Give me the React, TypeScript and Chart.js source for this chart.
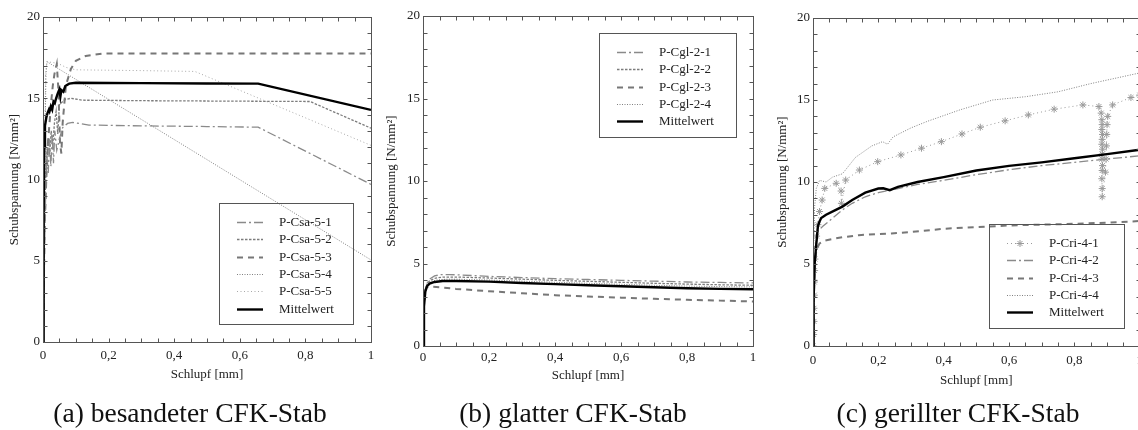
import React, { useEffect, useRef } from 'react';
import { Chart, registerables } from 'chart.js';

Chart.register(...registerables);

type Pt = [number, number];

// ---------- shared text ----------
const X_TITLE = 'Schlupf [mm]';
const Y_TITLE = 'Schubspannung [N/mm²]';
const X_MIN = 0;
const X_MAX = 1;
const X_STEP = 0.2;
const X_MINOR = 0.05;
const Y_MIN = 0;
const Y_MAX = 20;
const Y_STEP = 5;
const Y_MINOR = 1;

// ---------- (a) besandeter CFK-Stab ----------
const CAPTION_A = '(a) besandeter CFK-Stab';
const LABELS_A = ['P-Csa-5-1', 'P-Csa-5-2', 'P-Csa-5-3', 'P-Csa-5-4', 'P-Csa-5-5', 'Mittelwert'];
const CSA_5_1: Pt[] = [[0, 0], [0.004, 5], [0.008, 9], [0.012, 11.5], [0.016, 10.4], [0.02, 12.5], [0.024, 10.8], [0.028, 12.8], [0.032, 11], [0.036, 13.0], [0.042, 11.8], [0.05, 12.5], [0.06, 13.2], [0.075, 13.45], [0.09, 13.52], [0.11, 13.45], [0.14, 13.35], [0.3, 13.3], [0.5, 13.26], [0.656, 13.22], [1, 9.7]];
const CSA_5_2: Pt[] = [[0, 0], [0.005, 8], [0.01, 11], [0.015, 12.5], [0.02, 11.5], [0.025, 13], [0.03, 12.2], [0.035, 13.5], [0.04, 14.2], [0.045, 12.8], [0.05, 14.6], [0.065, 14.9], [0.085, 15.0], [0.12, 14.88], [0.3, 14.85], [0.6, 14.82], [0.814, 14.8], [1, 13.16]];
const CSA_5_3: Pt[] = [[0, 0], [0.005, 7], [0.01, 10], [0.015, 12.2], [0.02, 13.5], [0.025, 14.8], [0.03, 15.8], [0.035, 16.5], [0.042, 17.1], [0.047, 15.5], [0.052, 12.2], [0.056, 11.6], [0.06, 13.5], [0.07, 15.8], [0.085, 16.8], [0.1, 17.3], [0.13, 17.6], [0.18, 17.75], [1, 17.75]];
const CSA_5_4: Pt[] = [[0, 0], [0.003, 5], [0.006, 12], [0.009, 16.5], [0.012, 17.25], [1, 5.05]];
const CSA_5_5: Pt[] = [[0, 0], [0.004, 10], [0.008, 16.5], [0.012, 17.25], [0.045, 17.15], [0.07, 16.9], [0.1, 16.75], [0.3, 16.7], [0.463, 16.65], [1, 12.1]];
const CSA_MEAN: Pt[] = [[0, 0], [0.002, 8], [0.004, 12], [0.006, 13.3], [0.01, 13.8], [0.014, 14.1], [0.018, 14.3], [0.02, 14.2], [0.024, 14.5], [0.028, 14.3], [0.032, 14.8], [0.036, 14.7], [0.04, 15.0], [0.045, 15.3], [0.05, 15.55], [0.053, 15.1], [0.056, 15.5], [0.062, 15.4], [0.068, 15.75], [0.08, 15.9], [0.1, 15.95], [0.3, 15.93], [0.5, 15.91], [0.656, 15.9], [1, 14.28]];

// ---------- (b) glatter CFK-Stab ----------
const CAPTION_B = '(b) glatter CFK-Stab';
const LABELS_B = ['P-Cgl-2-1', 'P-Cgl-2-2', 'P-Cgl-2-3', 'P-Cgl-2-4', 'Mittelwert'];
const CGL_2_1: Pt[] = [[0, 0], [0.003, 2.2], [0.007, 3.3], [0.012, 3.8], [0.02, 4.05], [0.035, 4.25], [0.055, 4.33], [0.08, 4.33], [0.12, 4.3], [0.2, 4.22], [0.3, 4.15], [0.4, 4.08], [0.5, 4.03], [0.6, 3.98], [0.7, 3.93], [0.8, 3.88], [0.9, 3.85], [1, 3.82]];
const CGL_2_2: Pt[] = [[0, 0], [0.003, 2.5], [0.007, 3.4], [0.012, 3.75], [0.02, 3.95], [0.035, 4.1], [0.06, 4.18], [0.1, 4.18], [0.2, 4.12], [0.3, 4.05], [0.4, 3.98], [0.5, 3.92], [0.6, 3.86], [0.7, 3.8], [0.8, 3.75], [0.9, 3.71], [1, 3.68]];
const CGL_2_3: Pt[] = [[0, 0], [0.002, 2.4], [0.005, 3.3], [0.01, 3.55], [0.02, 3.6], [0.05, 3.56], [0.1, 3.46], [0.2, 3.32], [0.3, 3.2], [0.4, 3.08], [0.5, 3.0], [0.6, 2.93], [0.7, 2.86], [0.8, 2.8], [0.9, 2.75], [1, 2.7]];
const CGL_2_4: Pt[] = [[0, 0], [0.003, 2.4], [0.007, 3.3], [0.012, 3.7], [0.02, 3.88], [0.04, 4.0], [0.07, 4.05], [0.1, 4.05], [0.2, 4.0], [0.3, 3.93], [0.4, 3.86], [0.5, 3.8], [0.6, 3.74], [0.7, 3.68], [0.8, 3.63], [0.9, 3.6], [1, 3.58]];
const CGL_MEAN: Pt[] = [[0, 0], [0.003, 2.4], [0.007, 3.3], [0.012, 3.62], [0.02, 3.78], [0.035, 3.88], [0.06, 3.94], [0.1, 3.94], [0.2, 3.9], [0.3, 3.82], [0.4, 3.75], [0.5, 3.68], [0.6, 3.62], [0.7, 3.56], [0.8, 3.5], [0.9, 3.46], [1, 3.44]];

// ---------- (c) gerillter CFK-Stab ----------
const CAPTION_C = '(c) gerillter CFK-Stab';
const LABELS_C = ['P-Cri-4-1', 'P-Cri-4-2', 'P-Cri-4-3', 'P-Cri-4-4', 'Mittelwert'];
const CRI_4_1: Pt[] = [[0, 0], [0.002, 0.7], [0.003, 1.5], [0.003, 2.3], [0.004, 3.1], [0.004, 3.9], [0.005, 4.6], [0.006, 5.3], [0.008, 6.0], [0.011, 6.7], [0.015, 7.4], [0.02, 8.2], [0.028, 8.9], [0.036, 9.61], [0.071, 9.92], [0.086, 9.45], [0.087, 8.7], [0.1, 10.12], [0.142, 10.73], [0.198, 11.24], [0.269, 11.65], [0.332, 12.06], [0.393, 12.46], [0.456, 12.93], [0.512, 13.34], [0.588, 13.73], [0.659, 14.09], [0.738, 14.44], [0.826, 14.7], [0.875, 14.6], [0.882, 14.2], [0.884, 13.8], [0.885, 13.5], [0.884, 13.2], [0.886, 12.9], [0.885, 12.6], [0.884, 12.3], [0.886, 12.0], [0.885, 11.7], [0.884, 11.4], [0.886, 11.0], [0.885, 10.7], [0.884, 10.2], [0.885, 9.6], [0.885, 9.1], [0.895, 10.6], [0.897, 11.4], [0.898, 12.2], [0.899, 12.9], [0.9, 13.5], [0.902, 14.0], [0.917, 14.7], [0.973, 15.15], [1, 15.3]];
const CRI_4_2: Pt[] = [[0, 0], [0.003, 3], [0.006, 5], [0.01, 6.3], [0.015, 7.0], [0.03, 7.3], [0.06, 7.8], [0.09, 8.3], [0.12, 8.7], [0.16, 9.1], [0.2, 9.35], [0.26, 9.6], [0.32, 9.85], [0.4, 10.1], [0.5, 10.45], [0.6, 10.75], [0.7, 11.0], [0.8, 11.2], [0.9, 11.4], [1, 11.6]];
const CRI_4_3: Pt[] = [[0, 0], [0.002, 2.5], [0.005, 4.5], [0.01, 5.85], [0.02, 6.25], [0.035, 6.42], [0.08, 6.6], [0.14, 6.76], [0.24, 6.86], [0.3, 6.95], [0.4, 7.15], [0.5, 7.25], [0.6, 7.35], [0.7, 7.4], [0.8, 7.45], [0.9, 7.52], [1, 7.62]];
const CRI_4_4: Pt[] = [[0, 0], [0.002, 6], [0.005, 8.5], [0.01, 9.6], [0.02, 10.1], [0.04, 10.0], [0.06, 10.3], [0.09, 10.5], [0.13, 11.5], [0.18, 12.2], [0.213, 12.46], [0.228, 12.3], [0.245, 12.75], [0.3, 13.3], [0.35, 13.7], [0.45, 14.4], [0.55, 15.0], [0.65, 15.2], [0.75, 15.5], [0.85, 16.0], [1, 16.65]];
const CRI_MEAN: Pt[] = [[0, 0], [0.002, 3], [0.005, 5], [0.01, 6.2], [0.015, 7.3], [0.02, 7.6], [0.025, 7.8], [0.04, 8.0], [0.07, 8.3], [0.09, 8.5], [0.12, 8.9], [0.16, 9.35], [0.2, 9.6], [0.215, 9.62], [0.235, 9.5], [0.26, 9.7], [0.32, 10.0], [0.4, 10.3], [0.5, 10.7], [0.6, 10.98], [0.7, 11.2], [0.8, 11.45], [0.9, 11.7], [1, 11.97]];

// ---------- styles ----------
const FONT = 'Liberation Serif';
const TEXT_COLOR = '#222';
type Sty = { color: string; dash: number[]; width: number; star?: boolean };
const ST_LONG: Sty = { color: '#8a8a8a', dash: [9, 3, 2, 3], width: 1.3 };
const ST_FINE: Sty = { color: '#7c7c7c', dash: [2.5, 1.5], width: 1.3 };
const ST_MED: Sty = { color: '#777777', dash: [6, 5], width: 2 };
const ST_DOT: Sty = { color: '#808080', dash: [1, 1.5], width: 1 };
const ST_SPARSE: Sty = { color: '#a8a8a8', dash: [1, 2.5], width: 1 };
const ST_STAR: Sty = { color: '#9a9a9a', dash: [1, 3], width: 1, star: true };
const ST_MEAN: Sty = { color: '#000000', dash: [], width: 2.4 };

type PanelCfg = {
  left: number; width: number; height: number;
  padTop: number; padRight: number; padBottom: number;
  yWidth: number; xHeight: number; xTickPad: number; yTitlePad: number;
  legend: { left: number; top: number; width: number; height: number };
  caption: string; captionX: number;
  series: Pt[][]; labels: string[]; styles: Sty[];
};

const PANELS: PanelCfg[] = [
  {
    left: 0, width: 380, height: 430, padTop: 17, padRight: 9, padBottom: 48,
    yWidth: 43, xHeight: 40, xTickPad: 5.5, yTitlePad: 7,
    legend: { left: 219, top: 203, width: 134, height: 121 },
    caption: CAPTION_A, captionX: 190,
    series: [CSA_5_1, CSA_5_2, CSA_5_3, CSA_5_4, CSA_5_5, CSA_MEAN], labels: LABELS_A,
    styles: [ST_LONG, ST_FINE, ST_MED, ST_DOT, ST_SPARSE, ST_MEAN],
  },
  {
    left: 380, width: 380, height: 430, padTop: 16, padRight: 7, padBottom: 46.5,
    yWidth: 43, xHeight: 37.5, xTickPad: 3.5, yTitlePad: 4,
    legend: { left: 219, top: 33, width: 137, height: 104 },
    caption: CAPTION_B, captionX: 573 - 380,
    series: [CGL_2_1, CGL_2_2, CGL_2_3, CGL_2_4, CGL_MEAN], labels: LABELS_B,
    styles: [ST_LONG, ST_FINE, ST_MED, ST_DOT, ST_MEAN],
  },
  {
    left: 760, width: 390, height: 430, padTop: 18, padRight: 8, padBottom: 41.5,
    yWidth: 53, xHeight: 42.5, xTickPad: 7, yTitlePad: 15,
    legend: { left: 229, top: 224, width: 135, height: 104 },
    caption: CAPTION_C, captionX: 958 - 760,
    series: [CRI_4_1, CRI_4_2, CRI_4_3, CRI_4_4, CRI_MEAN], labels: LABELS_C,
    styles: [ST_STAR, ST_LONG, ST_MED, ST_DOT, ST_MEAN],
  },
];

function drawStar(ctx: CanvasRenderingContext2D, cx: number, cy: number, r: number) {
  ctx.beginPath();
  for (let k = 0; k < 4; k++) {
    const a = (k * Math.PI) / 4;
    const dx = Math.cos(a) * r;
    const dy = Math.sin(a) * r;
    ctx.moveTo(cx - dx, cy - dy);
    ctx.lineTo(cx + dx, cy + dy);
  }
  ctx.stroke();
}

const frameTicksPlugin = {
  id: 'frameTicks',
  afterDraw(chart: any) {
    const { ctx, chartArea, scales } = chart;
    const { left, right, top, bottom } = chartArea;
    const x = scales.x;
    const y = scales.y;
    ctx.save();
    ctx.setLineDash([]);
    ctx.strokeStyle = '#555';
    ctx.lineWidth = 1;
    const L = Math.round(left) + 0.5;
    const R = Math.round(right) + 0.5;
    const T = Math.round(top) + 0.5;
    const B = Math.round(bottom) + 0.5;
    ctx.strokeRect(L, T, R - L, B - T);
    const tl = 4;
    ctx.beginPath();
    const nx = Math.round((X_MAX - X_MIN) / X_MINOR);
    for (let i = 1; i < nx; i++) {
      const px = Math.round(x.getPixelForValue(X_MIN + i * X_MINOR)) + 0.5;
      ctx.moveTo(px, B); ctx.lineTo(px, B - tl);
      ctx.moveTo(px, T); ctx.lineTo(px, T + tl);
    }
    const ny = Math.round((Y_MAX - Y_MIN) / Y_MINOR);
    for (let i = 1; i < ny; i++) {
      const py = Math.round(y.getPixelForValue(Y_MIN + i * Y_MINOR)) + 0.5;
      ctx.moveTo(L, py); ctx.lineTo(L + tl, py);
      ctx.moveTo(R, py); ctx.lineTo(R - tl, py);
    }
    ctx.stroke();
    ctx.restore();
  },
};

const boxLegendPlugin = {
  id: 'boxLegend',
  afterDraw(chart: any, _args: any, opts: any) {
    const box = opts && opts.box;
    if (!box) return;
    const { ctx } = chart;
    ctx.save();
    ctx.setLineDash([]);
    ctx.strokeStyle = '#555';
    ctx.lineWidth = 1;
    ctx.strokeRect(Math.round(box.left) + 0.5, Math.round(box.top) + 0.5, box.width, box.height);
    const datasets = chart.data.datasets;
    datasets.forEach((ds: any, i: number) => {
      const yy = Math.round(box.top + 19 + i * 17.3) + 0.5;
      const x0 = box.left + 18;
      const x1 = box.left + 44;
      ctx.setLineDash(ds.borderDash || []);
      ctx.strokeStyle = ds.borderColor;
      ctx.lineWidth = ds.borderWidth;
      ctx.beginPath();
      ctx.moveTo(x0, yy);
      ctx.lineTo(x1, yy);
      ctx.stroke();
      if (ds.pointStyle === 'star') {
        ctx.setLineDash([]);
        ctx.lineWidth = 1;
        drawStar(ctx, (x0 + x1) / 2, yy, 3.5);
      }
      ctx.setLineDash([]);
      ctx.fillStyle = TEXT_COLOR;
      ctx.font = `13px "${FONT}"`;
      ctx.textBaseline = 'middle';
      ctx.textAlign = 'left';
      ctx.fillText(ds.label, box.left + 60, yy);
    });
    ctx.restore();
  },
};

function fmtX(v: any) {
  const n = Math.round(Number(v) * 10) / 10;
  if (n === 0) return '0';
  if (n === 1) return '1';
  return n.toFixed(1).replace('.', ',');
}

function buildConfig(p: PanelCfg): any {
  const datasets = p.series.map((pts, i) => {
    const s = p.styles[i];
    const isMean = p.labels[i] === 'Mittelwert';
    return {
      label: p.labels[i],
      data: pts.map(([x, y]) => ({ x, y })),
      borderColor: s.color,
      backgroundColor: s.color,
      borderDash: s.dash,
      borderWidth: s.width,
      fill: false,
      tension: 0,
      order: isMean ? 0 : i + 1,
      pointRadius: s.star ? 3.5 : 0,
      pointStyle: s.star ? 'star' : 'circle',
      pointBorderColor: s.color,
      pointBackgroundColor: s.color,
      pointBorderWidth: 1,
    };
  });
  const tickFont = { family: FONT, size: 13 };
  return {
    type: 'line',
    data: { datasets },
    options: {
      responsive: false,
      animation: false,
      events: [],
      layout: { padding: { left: 0, right: p.padRight, top: p.padTop, bottom: p.padBottom } },
      plugins: {
        legend: { display: false },
        tooltip: { enabled: false },
        title: { display: false },
        boxLegend: { box: p.legend },
      },
      scales: {
        x: {
          type: 'linear', min: X_MIN, max: X_MAX,
          grid: { display: false, drawTicks: false },
          border: { display: false },
          ticks: { stepSize: X_STEP, padding: p.xTickPad, font: tickFont, color: TEXT_COLOR, maxRotation: 0, autoSkip: false, callback: fmtX },
          title: { display: true, text: X_TITLE, font: tickFont, color: TEXT_COLOR, padding: { top: 0, bottom: 0 } },
          afterFit: (s: any) => { s.height = p.xHeight; },
        },
        y: {
          type: 'linear', min: Y_MIN, max: Y_MAX,
          grid: { display: false, drawTicks: false },
          border: { display: false },
          ticks: { stepSize: Y_STEP, padding: 3, font: tickFont, color: TEXT_COLOR, autoSkip: false },
          title: { display: true, text: Y_TITLE, font: tickFont, color: TEXT_COLOR, padding: { top: p.yTitlePad, bottom: 0 } },
          afterFit: (s: any) => { s.width = p.yWidth; },
        },
      },
    },
    plugins: [frameTicksPlugin, boxLegendPlugin],
  };
}

function Panel({ cfg }: { cfg: PanelCfg }) {
  const ref = useRef<HTMLCanvasElement>(null);
  useEffect(() => {
    if (!ref.current) return;
    const chart = new Chart(ref.current, buildConfig(cfg));
    return () => chart.destroy();
  }, [cfg]);
  return (
    <>
      <canvas
        ref={ref}
        width={cfg.width}
        height={cfg.height}
        style={{ position: 'absolute', left: cfg.left, top: 0, width: cfg.width, height: cfg.height }}
      />
      <div
        style={{
          position: 'absolute', left: cfg.left + cfg.captionX - 200, top: 399, width: 400,
          textAlign: 'center', fontFamily: FONT, fontSize: '27.5px', lineHeight: '27.5px', color: '#111',
          whiteSpace: 'nowrap',
        }}
      >
        {cfg.caption}
      </div>
    </>
  );
}

export default function App() {
  return (
    <div style={{ position: 'absolute', left: 0, top: 0, width: 1138, height: 430, overflow: 'hidden', background: '#fff' }}>
      {PANELS.map((p, i) => (
        <Panel key={i} cfg={p} />
      ))}
    </div>
  );
}
